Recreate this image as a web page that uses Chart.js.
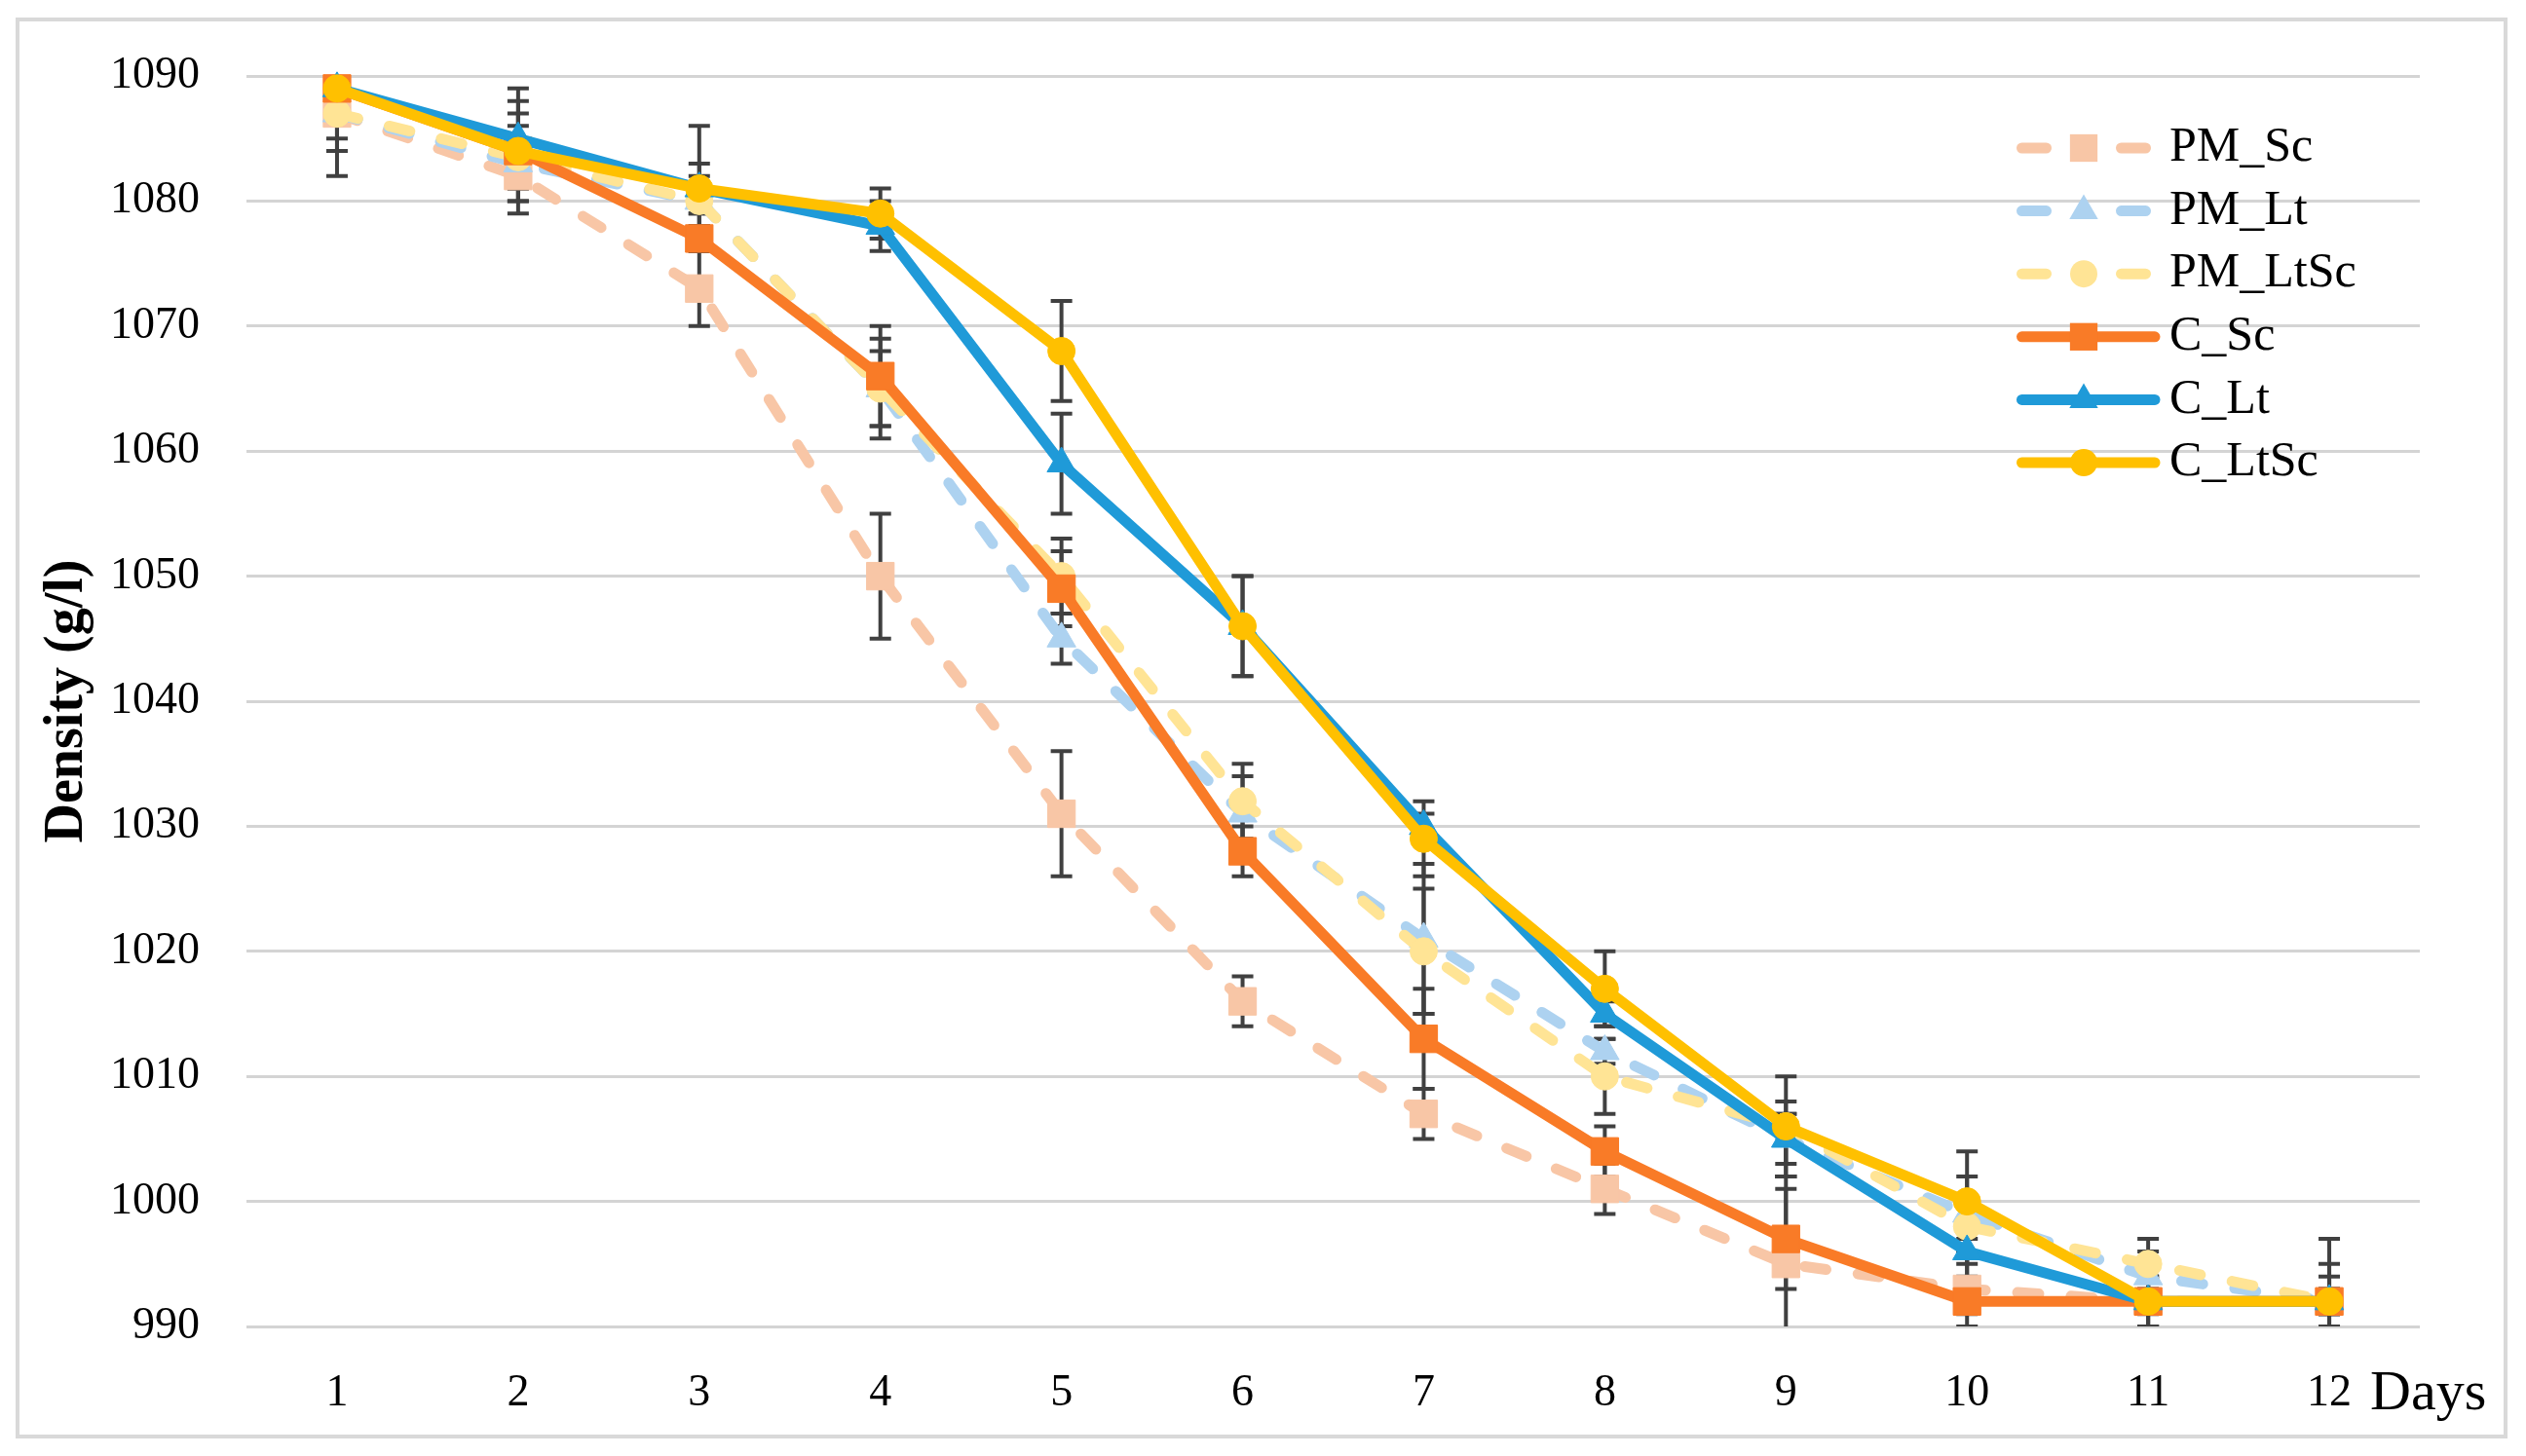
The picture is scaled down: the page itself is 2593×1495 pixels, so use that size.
<!DOCTYPE html>
<html>
<head>
<meta charset="utf-8">
<script src="https://cdn.jsdelivr.net/npm/chart.js@4.4.1/dist/chart.umd.min.js"></script>
<style>
  html, body { margin: 0; padding: 0; background: #fff; }
  canvas { display: block; }
</style>
</head>
<body>
<canvas id="myChart" width="2593" height="1495"></canvas>
<script>
// days on the x axis
const days = ['1', '2', '3', '4', '5', '6', '7', '8', '9', '10', '11', '12'];

// density (g/l) per series, with its error
const pmSc      = [1087, 1082, 1073, 1050, 1031, 1016, 1007, 1001, 995, 993, 992, 992];
const pmScErr   = [5, 3, 3, 5, 5, 2, 2, 2, 7, 3, 1, 5];
const pmLt      = [1087, 1083, 1080, 1065, 1045, 1031, 1021, 1012, 1005, 999, 994, 992];
const pmLtErr   = [3, 3, 1, 3, 2, 3, 6, 1, 2, 1, 2, 3];
const pmLtSc    = [1087, 1083.5, 1080, 1065, 1050, 1032, 1020, 1010, 1006, 998, 995, 992];
const pmLtScErr = [2, 1, 2, 4, 3, 3, 5, 3, 1, 4, 2, 2];
const cSc       = [1089, 1084, 1077, 1066, 1049, 1028, 1013, 1004, 997, 992, 992, 992];
const cScErr    = [1, 3, 1, 4, 3, 2, 4, 2, 4, 1, 2, 1];
const cLt       = [1089, 1085, 1081, 1078, 1059, 1046, 1030, 1015, 1005, 996, 992, 992];
const cLtErr    = [1, 4, 2, 2, 4, 4, 1, 1, 3, 1, 2, 1];
const cLtSc     = [1089, 1084, 1081, 1079, 1068, 1046, 1029, 1017, 1006, 1000, 992, 992];
const cLtScErr  = [1, 4, 5, 2, 4, 4, 3, 3, 4, 4, 2, 1];

const yTicks = [990, 1000, 1010, 1020, 1030, 1040, 1050, 1060, 1070, 1080, 1090];

const serif = "'Liberation Serif', 'Times New Roman', serif";

const makeSet = (label, data, errors, color, dashed, style, radius, order) => ({
    label: label,
    data: data,
    errors: errors,
    borderColor: color,
    backgroundColor: color,
    borderWidth: 11,
    borderDash: dashed ? [22, 33] : [],
    borderCapStyle: dashed ? 'round' : 'butt',
    borderJoinStyle: 'round',
    pointStyle: style,
    pointRadius: radius,
    pointHoverRadius: radius,
    pointBackgroundColor: color,
    pointBorderColor: color,
    pointBorderWidth: 1,
    tension: 0,
    clip: false,
    order: order
});

// frame round the whole picture, and the "Days" word
const frame = {
    id: 'frame',
    beforeDraw(chart) {
        const ctx = chart.ctx;
        ctx.save();
        ctx.fillStyle = '#ffffff';
        ctx.fillRect(0, 0, chart.width, chart.height);
        ctx.strokeStyle = '#d9d9d9';
        ctx.lineWidth = 4;
        ctx.strokeRect(18, 20, 2554, 1455);
        ctx.restore();
    },
    afterDraw(chart) {
        const ctx = chart.ctx;
        ctx.save();
        ctx.fillStyle = '#000';
        ctx.font = '58px ' + serif;
        ctx.textBaseline = 'alphabetic';
        ctx.textAlign = 'left';
        ctx.fillText('Days', 2433, 1447);
        ctx.restore();
    }
};

const errorBars = {
    id: 'errorBars',
    beforeDatasetsDraw(chart) {
        const {ctx, chartArea, scales: {x, y}} = chart;
        ctx.save();
        ctx.beginPath();
        ctx.rect(chartArea.left, chartArea.top, chartArea.right - chartArea.left, chartArea.bottom - chartArea.top);
        ctx.clip();
        ctx.strokeStyle = '#404040';
        ctx.lineWidth = 4;
        chart.data.datasets.forEach((ds) => {
            ds.data.forEach((v, i) => {
                const e = ds.errors[i];
                const px = x.getPixelForValue(i);
                const top = y.getPixelForValue(v + e);
                const bot = y.getPixelForValue(v - e);
                ctx.beginPath();
                ctx.moveTo(px, top); ctx.lineTo(px, bot);
                ctx.moveTo(px - 11, top); ctx.lineTo(px + 11, top);
                ctx.moveTo(px - 11, bot); ctx.lineTo(px + 11, bot);
                ctx.stroke();
            });
        });
        ctx.restore();
    }
};

const drawMarker = (ctx, style, r, cx, cy) => {
    ctx.beginPath();
    if (style === 'rect') {
        const s = Math.SQRT1_2 * r;
        ctx.rect(cx - s, cy - s, 2 * s, 2 * s);
    } else if (style === 'triangle') {
        for (let k = 0; k < 3; k++) {
            const a = k * 2 * Math.PI / 3;
            const px = cx + Math.sin(a) * r, py = cy - Math.cos(a) * r;
            if (k === 0) ctx.moveTo(px, py); else ctx.lineTo(px, py);
        }
        ctx.closePath();
    } else {
        ctx.arc(cx, cy, r, 0, 2 * Math.PI);
    }
    ctx.fill();
};

// legend inside the plot, top right
const sideLegend = {
    id: 'sideLegend',
    afterDraw(chart) {
        const ctx = chart.ctx;
        ctx.save();
        chart.data.datasets.forEach((ds, i) => {
            const yy = 152 + i * 64.6;
            const x0 = 2070, x1 = 2208, xm = (x0 + x1) / 2;
            const half = ds.borderWidth / 2;
            ctx.strokeStyle = ds.borderColor;
            ctx.fillStyle = ds.borderColor;
            ctx.lineWidth = ds.borderWidth;
            ctx.lineCap = 'round';
            ctx.beginPath();
            if (ds.borderDash.length) {
                ctx.moveTo(x0 + half, yy); ctx.lineTo(x0 + 36 - half, yy);
                ctx.moveTo(x1 - 36 + half, yy); ctx.lineTo(x1 - half, yy);
            } else {
                ctx.moveTo(x0 + half, yy); ctx.lineTo(x1 + 4, yy);
            }
            ctx.stroke();
            drawMarker(ctx, ds.pointStyle, ds.pointRadius, xm, yy);
            ctx.fillStyle = '#000';
            ctx.font = '50px ' + serif;
            ctx.textBaseline = 'middle';
            ctx.textAlign = 'left';
            ctx.fillText(ds.label, 2227, yy);
        });
        ctx.restore();
    }
};

var ctx = document.getElementById('myChart').getContext('2d');

const myChart = new Chart(ctx, {
    type: 'line',
    data: {
        labels: days,
        datasets: [
            makeSet('PM_Sc', pmSc, pmScErr, '#F8C6A6', true, 'rect', 20, 5),
            makeSet('PM_Lt', pmLt, pmLtErr, '#ADD2F0', true, 'triangle', 17, 4),
            makeSet('PM_LtSc', pmLtSc, pmLtScErr, '#FFE495', true, 'circle', 14, 3),
            makeSet('C_Sc', cSc, cScErr, '#F97B27', false, 'rect', 20, 2),
            makeSet('C_Lt', cLt, cLtErr, '#1F9AD8', false, 'triangle', 17, 1),
            makeSet('C_LtSc', cLtSc, cLtScErr, '#FFC000', false, 'circle', 14, 0)
        ]
    },
    options: {
        responsive: false,
        animation: false,
        devicePixelRatio: 1,
        layout: {
            padding: { left: 0, top: 78, right: 109, bottom: 0 }
        },
        plugins: {
            legend: { display: false },
            tooltip: { enabled: false }
        },
        scales: {
            x: {
                offset: true,
                grid: { display: false, drawTicks: false },
                border: { display: false },
                ticks: {
                    color: '#000',
                    padding: 41,
                    font: { family: serif, size: 46 }
                },
                afterFit: (scale) => { scale.height = 133; }
            },
            y: {
                min: 990,
                max: 1090,
                afterBuildTicks: (scale) => { scale.ticks = yTicks.map(v => ({ value: v })); },
                grid: { color: '#d4d4d4', lineWidth: 3, drawTicks: false },
                border: { display: false },
                ticks: {
                    color: '#000',
                    padding: 48,
                    font: { family: serif, size: 46 },
                    callback: (value) => String(value)
                },
                title: {
                    display: true,
                    text: 'Density (g/l)',
                    color: '#000',
                    padding: { top: 36, bottom: 0 },
                    font: { family: serif, size: 56, weight: 'bold' }
                },
                afterFit: (scale) => { scale.width = 253; }
            }
        }
    },
    plugins: [frame, errorBars, sideLegend]
});
</script>
</body>
</html>
